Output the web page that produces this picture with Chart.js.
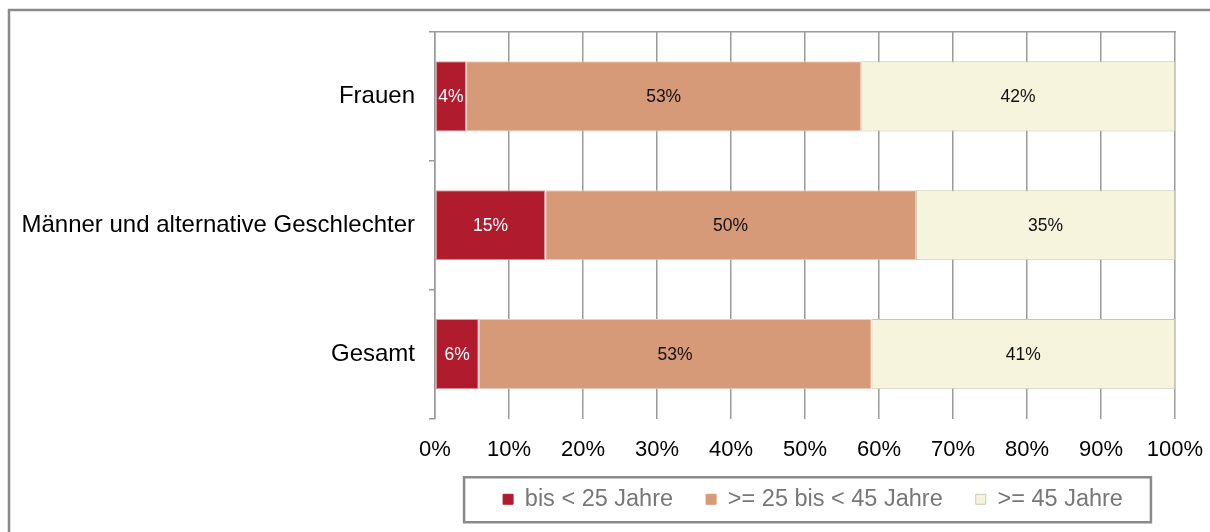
<!DOCTYPE html>
<html><head><meta charset="utf-8">
<script src="https://cdn.jsdelivr.net/npm/chart.js@4.4.1/dist/chart.umd.min.js"></script>
<style>html,body{margin:0;padding:0;background:#fff}canvas{display:block}</style>
</head><body>
<canvas id="c" width="1210" height="532"></canvas>
<script>
const categories = ["Frauen", "Männer und alternative Geschlechter", "Gesamt"];
const seriesNames = ["bis < 25 Jahre", ">= 25 bis < 45 Jahre", ">= 45 Jahre"];
const under25 = [4.2, 14.9, 5.9];
const from25to45 = [53.4, 50.1, 53.1];
const over45 = [42.4, 35.0, 41.0];
const xTicks = [0,10,20,30,40,50,60,70,80,90,100];

const FONT = "'Liberation Sans', Arial, sans-serif";
const GRID = '#9a9a9a';

const labelPlugin = {
  id: 'barLabels',
  afterDatasetsDraw(chart) {
    const ctx = chart.ctx;
    ctx.save();
    ctx.font = '17.5px ' + FONT;
    ctx.textAlign = 'center';
    ctx.textBaseline = 'middle';
    chart.data.datasets.forEach((ds, di) => {
      const meta = chart.getDatasetMeta(di);
      meta.data.forEach((el, i) => {
        const v = ds.data[i];
        const cx = (el.x + el.base) / 2;
        ctx.fillStyle = di === 0 ? '#ffffff' : '#111111';
        ctx.fillText(Math.round(v) + '%', cx, el.y + 1);
      });
    });
    ctx.restore();
  }
};

const legendShift = {
  id: 'legendShift',
  afterLayout(chart) {
    const lg = chart.legend;
    if (!lg) return;
    lg.top -= 8; lg.bottom -= 8;
    lg.left += 8; lg.right += 8;
  }
};

const framePlugin = {
  id: 'frame',
  afterDraw(chart) {
    const ctx = chart.ctx;
    ctx.save();
    ctx.strokeStyle = '#8a8a8a';
    ctx.lineWidth = 2.5;
    ctx.beginPath();
    ctx.moveTo(9, 540);
    ctx.lineTo(9, 10);
    ctx.lineTo(1220, 10);
    ctx.stroke();
    const lg = chart.legend;
    if (lg && lg.legendHitBoxes && lg.legendHitBoxes.length) {
      const hb = lg.legendHitBoxes;
      const l = hb[0].left - 39;
      const r = hb[hb.length - 1].left + hb[hb.length - 1].width + 28;
      const cy = hb[0].top + hb[0].height / 2;
      ctx.strokeRect(l, cy - 22, r - l, 45);
    }
    ctx.restore();
  }
};

new Chart(document.getElementById('c'), {
  type: 'bar',
  data: {
    labels: categories,
    datasets: [
      { label: seriesNames[0], data: under25, backgroundColor: '#B01C2E', borderColor: '#d9a0a6', borderWidth: 1, borderSkipped: false },
      { label: seriesNames[1], data: from25to45, backgroundColor: '#D79A78', borderColor: '#ecd0c0', borderWidth: 1, borderSkipped: false },
      { label: seriesNames[2], data: over45, backgroundColor: '#F6F4DC', borderColor: '#c9c9b8', borderWidth: 1, borderSkipped: false }
    ]
  },
  options: {
    indexAxis: 'y',
    responsive: false,
    animation: false,
    devicePixelRatio: 1,
    layout: { padding: { left: 0, right: 35, top: 32, bottom: 3 } },
    datasets: { bar: { barPercentage: 0.545, categoryPercentage: 1 } },
    plugins: {
      tooltip: { enabled: false },
      legend: {
        position: 'bottom',
        fullSize: false,
        labels: {
          font: { family: FONT, size: 23.5 },
          color: '#777777',
          boxWidth: 10,
          boxHeight: 10,
          padding: 33,
          generateLabels(chart) {
            return chart.data.datasets.map((ds, i) => ({
              text: ds.label,
              fillStyle: ds.backgroundColor,
              strokeStyle: i === 2 ? '#c9c9b8' : ds.backgroundColor,
              lineWidth: 1,
              fontColor: '#777777',
              hidden: false,
              datasetIndex: i
            }));
          }
        }
      }
    },
    scales: {
      x: {
        stacked: true,
        min: 0, max: 100,
        afterBuildTicks(scale) { scale.ticks = xTicks.map(v => ({ value: v })); },
        ticks: {
          font: { family: FONT, size: 22 },
          color: '#000',
          padding: 18,
          callback: v => v + '%'
        },
        grid: { color: GRID, lineWidth: 1.5, drawTicks: false },
        border: { display: false },
        afterFit(scale) { scale.height = 44; scale.paddingLeft = 0; scale.paddingRight = 0; }
      },
      x2: {
        position: 'top',
        min: 0, max: 100,
        ticks: { display: false },
        grid: { display: false, drawTicks: false },
        border: { display: true, color: GRID, width: 1.5 },
        afterFit(scale) { scale.height = 0; scale.paddingLeft = 0; scale.paddingRight = 0; }
      },
      y: {
        stacked: true,
        ticks: {
          font: { family: FONT, size: 24 },
          color: '#000',
          padding: 14
        },
        grid: { offset: true, drawOnChartArea: false, color: GRID, lineWidth: 1.5, tickLength: 6 },
        border: { display: true, color: GRID, width: 1.5 },
        afterFit(scale) { scale.width = 435; scale.paddingTop = 0; scale.paddingBottom = 0; }
      }
    }
  },
  plugins: [labelPlugin, legendShift, framePlugin]
});
</script>
</body></html>
